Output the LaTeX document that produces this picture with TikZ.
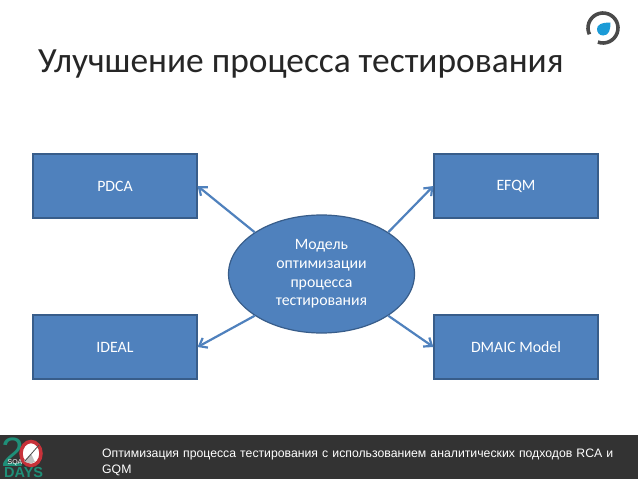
\documentclass[tikz,border=0pt]{standalone}
\usepackage{fontspec}
\setmainfont{Carlito}
\newfontfamily\footfont{Liberation Sans}
\definecolor{boxblue}{HTML}{4F81BD}
\definecolor{boxline}{HTML}{385D8A}
\definecolor{footgray}{HTML}{333333}
\definecolor{logogreen}{HTML}{1F8F78}
\definecolor{logored}{HTML}{C8323A}
\definecolor{ringgray}{HTML}{4A4A4A}
\definecolor{dropblue}{HTML}{1B9BD7}
\tikzset{
	blockbox/.style={draw=boxline,line width=1.2pt,fill=boxblue,minimum width=164pt,minimum height=64pt,inner sep=0pt,text=white,font=\fontsize{15.8}{18}\selectfont},
	hubellipse/.style={ellipse,draw=boxline,line width=1.2pt,fill=boxblue,minimum width=186pt,minimum height=118pt,inner sep=0pt,text=white,align=center,font=\fontsize{15.8}{18.8}\selectfont},
	linkarrow/.style={draw=boxblue,line width=2.2pt,-{Straight Barb[length=7pt,width=11pt]}}
}
\usetikzlibrary{shapes.geometric,arrows.meta}
\begin{document}
\begin{tikzpicture}[x=1pt,y=1pt]
	\useasboundingbox (0,0) rectangle (638,-479);
	\fill[white] (0,0) rectangle (638,-479);
	\node[anchor=base west,inner sep=0pt,font=\fontsize{35.4}{38}\selectfont,text=black!85] (title) at (38,-72) {Улучшение процесса тестирования};
	% logo top right
	\draw[ringgray,line width=3.6pt] (603,-28) ++(-110:15) arc (-110:205:15);
	\fill[dropblue] (610.5,-22.5) .. controls (610.5,-30) and (609,-35.5) .. (603,-35.5) .. controls (599,-35.5) and (597,-32) .. (597,-29) .. controls (597,-25) and (601,-22.5) .. (610.5,-22.5) -- cycle;
	% blocks
	\node[blockbox] (pdca) at (115,-186) {PDCA};
	\node[blockbox] (efqm) at (516,-186) {EFQM};
	\node[blockbox] (ideal) at (115,-347) {IDEAL};
	\node[blockbox] (dmaic) at (516,-347) {DMAIC Model};
	\node[hubellipse] (model) at (321.5,-274) {\vspace*{2pt}Модель\\оптимизации\\процесса\\тестирования};
	\draw[linkarrow] (model.148) -- (pdca.east);
	\draw[linkarrow] (model.32) -- (efqm.west);
	\draw[linkarrow] (model.212) -- (ideal.east);
	\draw[linkarrow] (model.328) -- (dmaic.west);
	% footer
	\fill[footgray] (0,-435) rectangle (638,-479);
	\node[anchor=north west,inner sep=0pt,text width=525pt,align=left,text=white,font=\footfont\fontsize{12.25}{16}\selectfont] (foot) at (102,-448.5) {Оптимизация процесса тестирования с использованием аналитических подходов RCA и GQM};
	% 20 days mark
	\node[anchor=base west,inner sep=0pt,text=logogreen,font=\footfont\fontsize{41}{41}\selectfont] (twenty) at (1,-466) {2};
	\draw[logored,line width=3.5pt,fill=white] (31,-453.5) ellipse (10 and 12);
	\fill[black!25] (31,-453.5) -- (24,-461) arc (230:300:9.5) -- cycle;
	\draw[black!70,line width=.8pt] (25,-461) -- (39,-445);
	\node[anchor=base,inner sep=0pt,text=white,font=\footfont\fontsize{7}{7}\selectfont] (sqa) at (15,-464.5) {SQA};
	\node[anchor=base west,inner sep=0pt,text=logogreen,font=\footfont\bfseries\fontsize{14.5}{14.5}\selectfont] (days) at (4,-477.5) {DAYS};
\end{tikzpicture}
\end{document}
